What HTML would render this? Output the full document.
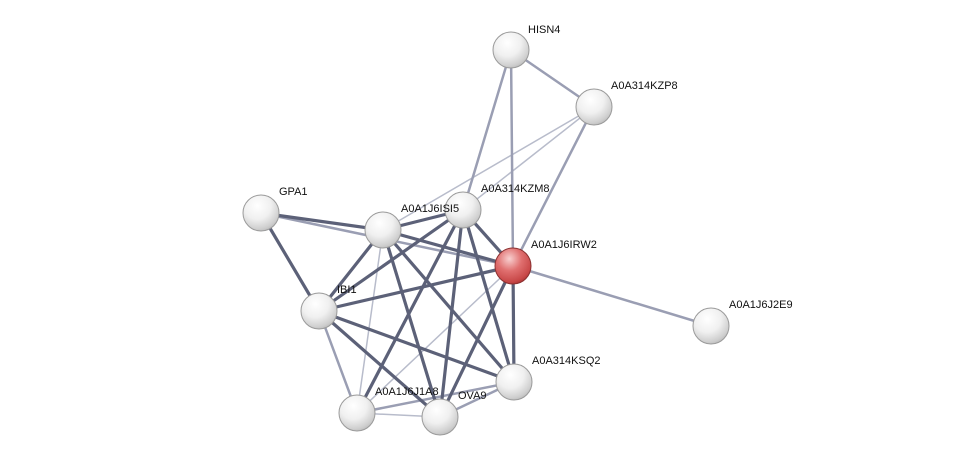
<!DOCTYPE html>
<html><head><meta charset="utf-8"><style>
html,body{margin:0;padding:0;background:#fff;}
svg{display:block;}
text{font-family:"Liberation Sans",Arial,sans-serif;font-size:11px;fill:#111;}
</style></head><body>
<svg width="976" height="462" viewBox="0 0 976 462" xmlns="http://www.w3.org/2000/svg">
<defs>
<radialGradient id="w" cx="40%" cy="30%" r="75%">
<stop offset="0" stop-color="#ffffff"/><stop offset="0.5" stop-color="#f0f0f0"/><stop offset="0.85" stop-color="#cfcfcf"/><stop offset="1" stop-color="#b8b8b8"/>
</radialGradient>
<radialGradient id="r" cx="40%" cy="30%" r="75%">
<stop offset="0" stop-color="#f8d0d0"/><stop offset="0.45" stop-color="#e07070"/><stop offset="0.85" stop-color="#c84848"/><stop offset="1" stop-color="#a83030"/>
</radialGradient>
</defs>
<g stroke-linecap="round">
<g stroke="#b8bccb" stroke-width="1.5">
<line x1="594" y1="107" x2="383" y2="230"/>
<line x1="594" y1="107" x2="463" y2="210"/>
<line x1="383" y1="230" x2="357" y2="413"/>
<line x1="513" y1="266" x2="357" y2="413"/>
<line x1="357" y1="413" x2="440" y2="417"/>
</g>
<g stroke="#9a9eb3" stroke-width="2.5">
<line x1="511" y1="50" x2="594" y2="107"/>
<line x1="511" y1="50" x2="463" y2="210"/>
<line x1="511" y1="50" x2="513" y2="266"/>
<line x1="594" y1="107" x2="513" y2="266"/>
<line x1="513" y1="266" x2="711" y2="326"/>
<line x1="261" y1="213" x2="513" y2="266"/>
<line x1="514" y1="382" x2="440" y2="417"/>
<line x1="319" y1="311" x2="357" y2="413"/>
<line x1="514" y1="382" x2="357" y2="413"/>
</g>
<g stroke="#5c6178" stroke-width="3.2">
<line x1="261" y1="213" x2="383" y2="230"/>
<line x1="261" y1="213" x2="319" y2="311"/>
<line x1="383" y1="230" x2="463" y2="210"/>
<line x1="383" y1="230" x2="513" y2="266"/>
<line x1="383" y1="230" x2="319" y2="311"/>
<line x1="383" y1="230" x2="514" y2="382"/>
<line x1="383" y1="230" x2="440" y2="417"/>
<line x1="463" y1="210" x2="357" y2="413"/>
<line x1="463" y1="210" x2="513" y2="266"/>
<line x1="463" y1="210" x2="319" y2="311"/>
<line x1="463" y1="210" x2="514" y2="382"/>
<line x1="463" y1="210" x2="440" y2="417"/>
<line x1="513" y1="266" x2="319" y2="311"/>
<line x1="513" y1="266" x2="514" y2="382"/>
<line x1="513" y1="266" x2="440" y2="417"/>
<line x1="319" y1="311" x2="514" y2="382"/>
<line x1="319" y1="311" x2="440" y2="417"/>
</g>
</g>
<g stroke="#9a9a9a" stroke-width="1">
<circle cx="511" cy="50" r="18" fill="url(#w)"/>
<circle cx="594" cy="107" r="18" fill="url(#w)"/>
<circle cx="261" cy="213" r="18" fill="url(#w)"/>
<circle cx="383" cy="230" r="18" fill="url(#w)"/>
<circle cx="463" cy="210" r="18" fill="url(#w)"/>
<circle cx="319" cy="311" r="18" fill="url(#w)"/>
<circle cx="711" cy="326" r="18" fill="url(#w)"/>
<circle cx="514" cy="382" r="18" fill="url(#w)"/>
<circle cx="357" cy="413" r="18" fill="url(#w)"/>
<circle cx="440" cy="417" r="18" fill="url(#w)"/>
<circle cx="513" cy="266" r="18" fill="url(#r)" stroke="#8a3030"/>
</g>
<text x="528" y="33">HISN4</text>
<text x="611" y="89">A0A314KZP8</text>
<text x="279" y="195">GPA1</text>
<text x="401" y="212">A0A1J6ISI5</text>
<text x="481" y="192">A0A314KZM8</text>
<text x="531" y="248">A0A1J6IRW2</text>
<text x="337" y="293">IBI1</text>
<text x="729" y="308">A0A1J6J2E9</text>
<text x="532" y="364">A0A314KSQ2</text>
<text x="375" y="395">A0A1J6J1A8</text>
<text x="458" y="399">OVA9</text>
</svg>
</body></html>
